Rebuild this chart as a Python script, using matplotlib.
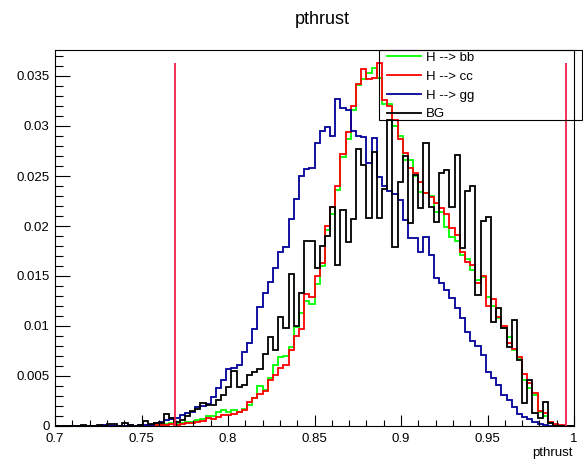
import numpy as np
import matplotlib
matplotlib.use("Agg")
import matplotlib.pyplot as plt
from matplotlib.lines import Line2D
from matplotlib.patches import Rectangle
from matplotlib.ticker import MultipleLocator, FuncFormatter

plt.rcParams['font.family'] = ['Liberation Sans', 'DejaVu Sans']

# 100 bins from 0.7 to 1.0, normalised histograms
edges = np.linspace(0.7, 1.0, 101)

h_bb = [0, 0, 0, 0, 0, 0, 0, 0, 0, 0,
        0, 0, 0, 0, 0, 0, 0, 0, 0, .0001,
        .0001, .0002, .0003, .0002, .0003, .0004, .0004, .0006, .0007, .0010,
        .0010, .0014, .0016, .0014, .0016, .0014, .0017, .0021, .0028, .0040,
        .0036, .0048, .0061, .0069, .0070, .0079, .0099, .0113, .0125, .0122,
        .0142, .0160, .0196, .0212, .0236, .0269, .0287, .0316, .0341, .0347,
        .0353, .0358, .0348, .0322, .0322, .0300, .0290, .0266, .0266, .0250,
        .0234, .0233, .0230, .0214, .0214, .0199, .0189, .0185, .0171, .0167,
        .0156, .0146, .0149, .0129, .0120, .0108, .0098, .0089, .0076, .0067,
        .0046, .0038, .0031, .0014, .0010, .0003, .0001, 0, 0, 0]

h_cc = [0, 0, 0, 0, 0, 0, 0, 0, 0, 0,
        0, 0, 0, 0, 0, 0, 0, 0, .0001, .0001,
        .0001, .0001, .0002, .0001, .0002, .0003, .0003, .0004, .0005, .0008,
        .0007, .0009, .0011, .0011, .0012, .0014, .0016, .0024, .0028, .0032,
        .0035, .0046, .0051, .0058, .0061, .0076, .0090, .0097, .0132, .0129,
        .0150, .0163, .0200, .0219, .0240, .0272, .0294, .0320, .0342, .0357,
        .0347, .0348, .0363, .0326, .0320, .0306, .0287, .0273, .0258, .0253,
        .0244, .0233, .0229, .0223, .0218, .0212, .0198, .0191, .0174, .0164,
        .0161, .0143, .0150, .0120, .0127, .0109, .0100, .0083, .0077, .0069,
        .0052, .0043, .0033, .0015, .0013, .0004, .0002, .0001, 0, 0]

h_gg = [0, 0, 0, 0, 0, 0, 0, 0, 0, .0001,
        0, 0, 0, 0, .0001, 0, .0001, .0001, .0001, .0003,
        .0004, .0006, .0007, .0008, .0011, .0013, .0014, .0019, .0020, .0022,
        .0029, .0038, .0046, .0057, .0058, .0061, .0074, .0083, .0097, .0119,
        .0133, .0144, .0158, .0174, .0179, .0207, .0227, .0250, .0257, .0258,
        .0283, .0295, .0299, .0290, .0327, .0318, .0316, .0295, .0290, .0289,
        .0263, .0288, .0249, .0240, .0235, .0232, .0226, .0206, .0188, .0188,
        .0174, .0189, .0171, .0148, .0143, .0136, .0128, .0118, .0108, .0094,
        .0085, .0080, .0071, .0054, .0048, .0041, .0031, .0026, .0019, .0012,
        .0009, .0007, .0004, .0002, .0001, 0, 0, 0, 0, 0]

h_bg = [0, 0, 0, 0, 0, .0001, 0, 0, .0001, 0,
        .0002, .0002, 0, .0003, .0001, 0, .0001, .0005, .0002, .0003,
        .0003, .0012, .0008, .0004, .0006, .0010, .0015, .0017, .0023, .0021,
        .0021, .0026, .0031, .0039, .0055, .0039, .0041, .0051, .0054, .0057,
        .0072, .0089, .0076, .0109, .0098, .0152, .0100, .0133, .0185, .0185,
        .0158, .0180, .0190, .0219, .0161, .0216, .0184, .0207, .0277, .0261,
        .0208, .0274, .0208, .0237, .0306, .0179, .0244, .0270, .0203, .0251,
        .0218, .0283, .0219, .0204, .0253, .0256, .0219, .0271, .0178, .0235,
        .0240, .0131, .0205, .0209, .0104, .0118, .0098, .0079, .0106, .0066,
        .0023, .0046, .0013, .0008, .0024, .0003, 0, 0, 0, 0]

labels = ['H --> bb', 'H --> cc', 'H --> gg', 'BG']
colors = ['#00ff00', '#ff0000', '#000099', '#000000']

# cut positions
cuts = [0.7695, 0.9952]

W, H = 583, 466
fig = plt.figure(figsize=(W / 100, H / 100), dpi=100)
ax = fig.add_axes([55 / W, 1 - 426 / H, (574 - 55) / W, (426 - 50) / H])

for vals, col in zip([h_bb, h_cc, h_gg, h_bg], colors):
    ax.stairs(vals, edges, color=col, lw=1.3, baseline=0)

for c in cuts:
    ax.vlines(c, 0, max(h_cc), color='#f0204a', lw=1.3)

ax.set_xlim(0.7, 1.0)
ax.set_ylim(0, 0.0376)

ax.xaxis.set_major_locator(MultipleLocator(0.05))
ax.xaxis.set_minor_locator(MultipleLocator(0.01))
ax.yaxis.set_major_locator(MultipleLocator(0.005))
ax.yaxis.set_minor_locator(MultipleLocator(0.001))
fmt = FuncFormatter(lambda v, p: '%g' % round(v, 4))
ax.xaxis.set_major_formatter(fmt)
ax.yaxis.set_major_formatter(fmt)

ax.tick_params(axis='both', which='both', direction='in', top=False, right=False,
               labelsize=9.5, width=0.8)
ax.tick_params(axis='x', which='major', length=8, pad=5)
ax.tick_params(axis='x', which='minor', length=4)
ax.tick_params(axis='y', which='major', length=11, pad=4)
ax.tick_params(axis='y', which='minor', length=5.5)
for s in ax.spines.values():
    s.set_linewidth(0.8)

fig.text(322 / W, 1 - 20 / H, 'pthrust', ha='center', va='center', fontsize=13)
fig.text(573 / W, 1 - 453 / H, 'pthrust', ha='right', va='center', fontsize=9.5)

# legend box (transparent, like the ROOT one)
fig.patches.append(Rectangle((379 / W, 1 - 120 / H), (582 - 379) / W, 70 / H,
                             transform=fig.transFigure, fill=False,
                             ec='black', lw=0.8))
handles = [Line2D([], [], color=c, lw=1.3) for c in colors]
leg = ax.legend(handles, labels, loc='upper left',
                bbox_to_anchor=(384 / W, 1 - 49 / H),
                bbox_transform=fig.transFigure, fontsize=9.5, frameon=False,
                handlelength=2.6, handletextpad=0.4, labelspacing=0.5,
                borderpad=0.2, borderaxespad=0)

fig.savefig('out.png', dpi=100)
